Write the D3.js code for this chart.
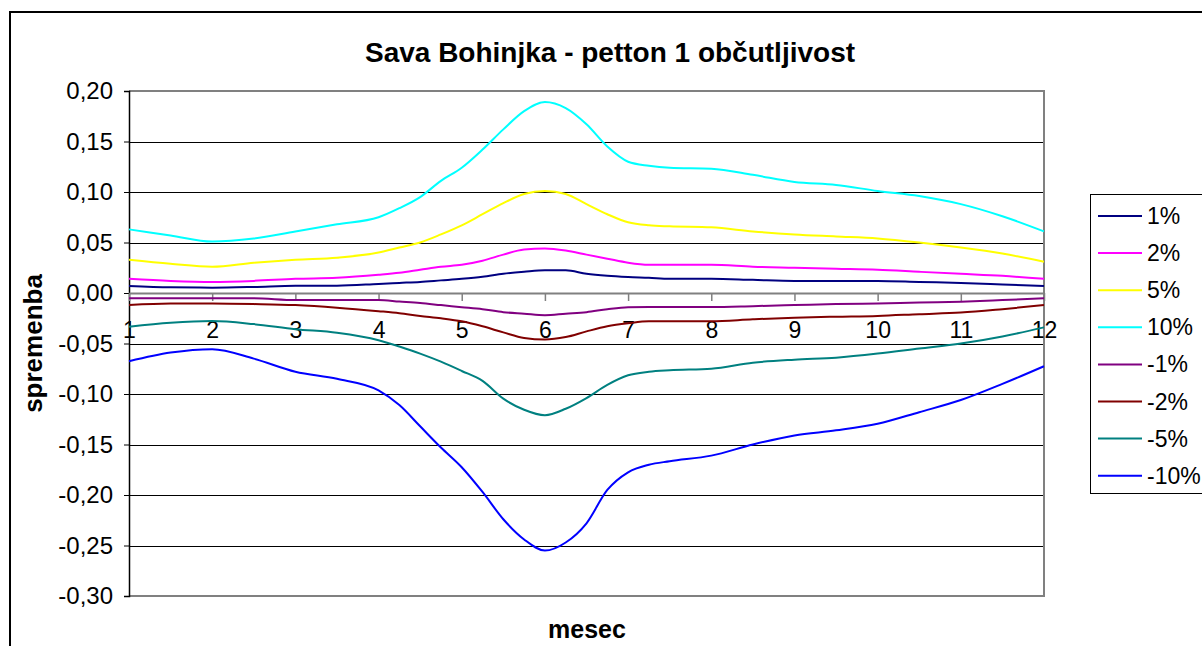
<!DOCTYPE html>
<html>
<head>
<meta charset="utf-8">
<script src="https://cdn.jsdelivr.net/npm/d3@7"></script>
<style>
    body { margin: 0; background: #fff; }
    text { font-family: "Liberation Sans", Arial, sans-serif; }
</style>
</head>
<body>
<div id="chart"></div>
<script>

// months (x positions of the read points)
let months = [1, 1.5, 2, 2.5, 3, 3.5, 4, 4.25, 4.5, 4.75, 5, 5.25, 5.5, 5.75, 6, 6.25, 6.5, 6.75, 7, 7.25, 7.5, 8, 8.5, 9, 9.5, 10, 10.5, 11, 11.5, 12];

// series values (change per month)
let plus1 = [0.007, 0.0056, 0.0053, 0.006, 0.0072, 0.0072, 0.009, 0.010, 0.011, 0.0125, 0.014, 0.016, 0.019, 0.021, 0.0225, 0.0225, 0.019, 0.017, 0.0158, 0.015, 0.014, 0.014, 0.013, 0.012, 0.012, 0.012, 0.011, 0.010, 0.0085, 0.007];
let plus2 = [0.014, 0.012, 0.011, 0.012, 0.014, 0.015, 0.018, 0.020, 0.023, 0.026, 0.028, 0.032, 0.038, 0.043, 0.044, 0.042, 0.038, 0.034, 0.030, 0.028, 0.028, 0.028, 0.026, 0.025, 0.024, 0.023, 0.021, 0.019, 0.017, 0.014];
let plus5 = [0.033, 0.029, 0.026, 0.030, 0.033, 0.035, 0.040, 0.045, 0.050, 0.058, 0.067, 0.078, 0.089, 0.098, 0.101, 0.098, 0.088, 0.078, 0.070, 0.067, 0.066, 0.065, 0.061, 0.058, 0.056, 0.054, 0.050, 0.045, 0.039, 0.031];
let plus10 = [0.063, 0.057, 0.051, 0.054, 0.061, 0.068, 0.075, 0.084, 0.095, 0.111, 0.124, 0.142, 0.162, 0.180, 0.189, 0.183, 0.167, 0.145, 0.130, 0.126, 0.124, 0.123, 0.117, 0.110, 0.107, 0.101, 0.096, 0.088, 0.076, 0.061];
let minus1 = [-0.0053, -0.0053, -0.0053, -0.0053, -0.007, -0.007, -0.007, -0.0085, -0.010, -0.012, -0.014, -0.016, -0.019, -0.0205, -0.022, -0.0205, -0.019, -0.016, -0.014, -0.0138, -0.0138, -0.0138, -0.013, -0.012, -0.011, -0.0105, -0.0095, -0.0086, -0.007, -0.0053];
let minus2 = [-0.012, -0.0105, -0.0105, -0.011, -0.012, -0.0145, -0.018, -0.020, -0.0227, -0.025, -0.028, -0.033, -0.039, -0.0445, -0.046, -0.0436, -0.038, -0.033, -0.030, -0.028, -0.028, -0.028, -0.026, -0.0244, -0.0235, -0.0227, -0.021, -0.0194, -0.016, -0.012];
let minus5 = [-0.0334, -0.0295, -0.0278, -0.0308, -0.0358, -0.0394, -0.0467, -0.053, -0.060, -0.068, -0.0772, -0.087, -0.1046, -0.1156, -0.121, -0.1146, -0.104, -0.091, -0.0815, -0.078, -0.0765, -0.075, -0.069, -0.066, -0.064, -0.060, -0.055, -0.050, -0.043, -0.034];
let minus10 = [-0.0676, -0.059, -0.0556, -0.065, -0.078, -0.085, -0.0964, -0.111, -0.132, -0.153, -0.1725, -0.197, -0.224, -0.244, -0.255, -0.247, -0.228, -0.195, -0.1775, -0.170, -0.1666, -0.161, -0.150, -0.141, -0.136, -0.1295, -0.118, -0.106, -0.090, -0.0725];

// legend names, tick labels
let seriesNames = ["1%", "2%", "5%", "10%", "-1%", "-2%", "-5%", "-10%"];
let seriesColors = ["#000080", "#ff00ff", "#ffff00", "#00ffff", "#800080", "#800000", "#008080", "#0000ff"];
let monthTicks = [1, 2, 3, 4, 5, 6, 7, 8, 9, 10, 11, 12];
let valueTicks = [0.20, 0.15, 0.10, 0.05, 0.00, -0.05, -0.10, -0.15, -0.20, -0.25, -0.30];

class SensitivityChart {

    constructor (series)
    {
        this.series = series;
        this.width = 1202;
        this.height = 646;

        //plot area inside the chart frame
        this.plot = {left: 129, right: 1044, top: 91, bottom: 596};

        this.svg = d3.select("#chart").append("svg")
            .attr("width", this.width)
            .attr("height", this.height);

        //comma as decimal sign, plain hyphen as minus
        this.fmt = d3.formatLocale({decimal: ",", thousands: ".", grouping: [3], currency: ["", ""], minus: "-"}).format(".2f");
    };

    create ()
    {
        let p = this.plot;
        let svg = this.svg;

        let xScale = d3.scaleLinear().domain([1, 12]).range([p.left, p.right]);
        let yScale = d3.scaleLinear().domain([-0.30, 0.20]).range([p.bottom, p.top]);

        //outer chart frame
        svg.append("rect")
            .attr("x", 10).attr("y", 12)
            .attr("width", 1220).attr("height", 660)
            .attr("fill", "white")
            .attr("stroke", "black")
            .attr("stroke-width", 2);

        //horizontal gridlines
        svg.append("g")
            .selectAll("line")
            .data(valueTicks)
            .enter().append("line")
            .attr("x1", p.left).attr("x2", p.right)
            .attr("y1", d => Math.round(yScale(d)) + 0.5)
            .attr("y2", d => Math.round(yScale(d)) + 0.5)
            .attr("stroke", "black")
            .attr("stroke-width", 1);

        //plot border (gray)
        svg.append("path")
            .attr("d", "M" + p.left + "," + p.top + "H" + p.right + "V" + p.bottom + "H" + p.left)
            .attr("fill", "none")
            .attr("stroke", "#808080")
            .attr("stroke-width", 2);

        //value axis
        let yAxis = d3.axisLeft(yScale)
            .tickValues(valueTicks)
            .tickSize(5)
            .tickPadding(11)
            .tickFormat(this.fmt);
        let gy = svg.append("g")
            .attr("transform", "translate(" + p.left + ",0)")
            .call(yAxis);
        gy.select(".domain").attr("stroke", "black").attr("stroke-width", 1.5);
        gy.selectAll(".tick line").attr("stroke", "black");
        gy.selectAll("text")
            .attr("font-size", 24)
            .attr("font-family", "'Liberation Sans', Arial, sans-serif")
            .attr("fill", "black");

        //category axis crossing at zero
        let xAxis = d3.axisBottom(xScale)
            .tickValues(monthTicks)
            .tickSizeInner(8)
            .tickSizeOuter(0)
            .tickPadding(37)
            .tickFormat(d3.format("d"));
        let gx = svg.append("g")
            .attr("transform", "translate(0," + yScale(0) + ")")
            .call(xAxis);
        gx.select(".domain").attr("stroke", "#808080").attr("stroke-width", 2);
        gx.selectAll(".tick line").attr("stroke", "#808080").attr("stroke-width", 1.5);
        gx.selectAll("text")
            .attr("font-size", 23)
            .attr("font-family", "'Liberation Sans', Arial, sans-serif")
            .attr("fill", "black")
            .attr("dy", "0");

        //series lines
        let line = d3.line()
            .x((d, i) => xScale(months[i]))
            .y(d => yScale(d))
            .curve(d3.curveMonotoneX);

        svg.append("g")
            .selectAll("path")
            .data(this.series)
            .enter().append("path")
            .attr("d", d => line(d.values))
            .attr("fill", "none")
            .attr("stroke", d => d.color)
            .attr("stroke-width", 2);

        //title
        svg.append("text")
            .attr("x", 610).attr("y", 62)
            .attr("text-anchor", "middle")
            .attr("font-size", 28)
            .attr("font-weight", "bold")
            .text("Sava Bohinjka - petton 1 občutljivost");

        //axis titles
        svg.append("text")
            .attr("x", 587).attr("y", 638)
            .attr("text-anchor", "middle")
            .attr("font-size", 25)
            .attr("font-weight", "bold")
            .text("mesec");

        svg.append("text")
            .attr("transform", "translate(42," + ((p.top + p.bottom) / 2) + ") rotate(-90)")
            .attr("text-anchor", "middle")
            .attr("font-size", 26)
            .attr("font-weight", "bold")
            .text("spremenba");

        ///////// Legend: Start //////////////
        let legend = svg.append("g").attr("transform", "translate(1090,194)");
        legend.append("rect")
            .attr("x", 0.5).attr("y", 0.5)
            .attr("width", 140).attr("height", 299)
            .attr("fill", "white")
            .attr("stroke", "black")
            .attr("stroke-width", 1);

        let rows = legend.selectAll("g.row")
            .data(this.series)
            .enter().append("g")
            .attr("class", "row")
            .attr("transform", (d, i) => "translate(0," + (22 + i * 37.1) + ")");
        rows.append("line")
            .attr("x1", 8).attr("x2", 52)
            .attr("stroke", d => d.color)
            .attr("stroke-width", 2);
        rows.append("text")
            .attr("x", 57).attr("y", 8)
            .attr("font-size", 23)
            .text(d => d.name);
        ///////// Legend: End ////////////////
    };
}

let allValues = [plus1, plus2, plus5, plus10, minus1, minus2, minus5, minus10];
let series = seriesNames.map((name, i) => ({name: name, color: seriesColors[i], values: allValues[i]}));

let chart = new SensitivityChart(series);
chart.create();
</script>
</body>
</html>
